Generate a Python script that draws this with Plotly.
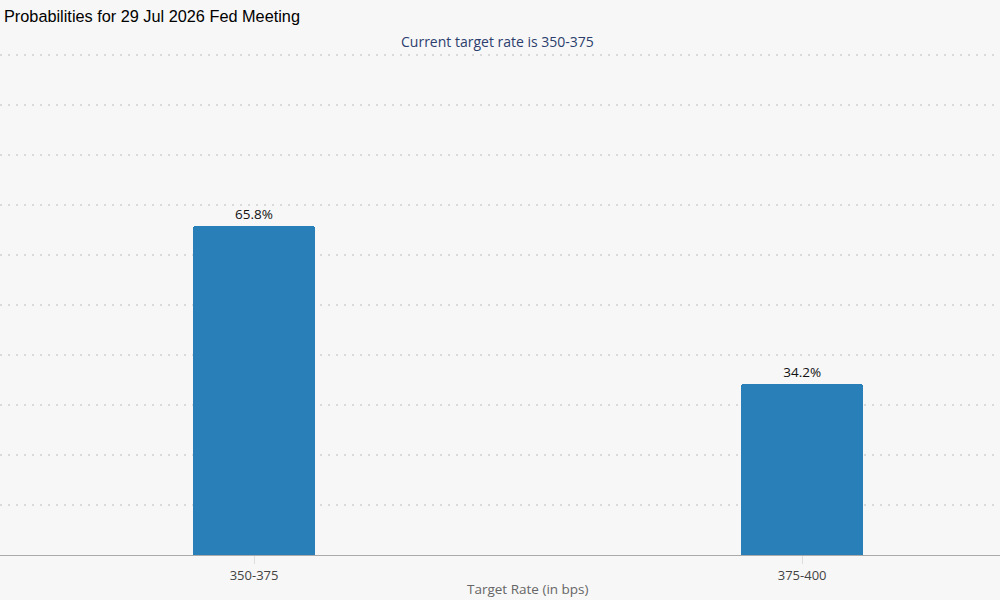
import plotly.graph_objects as go

categories = ["350-375", "375-400"]
probabilities = [65.8, 34.2]
y_ticks = [0, 10, 20, 30, 40, 50, 60, 70, 80, 90, 100]

fig = go.Figure(
    go.Bar(
        x=categories,
        y=probabilities,
        width=0.2226,
        marker=dict(color="#2980b9", cornerradius=3, line=dict(width=0)),
        text=[f"{v:.1f}%" for v in probabilities],
        textposition="outside",
        textfont=dict(family="Open Sans", size=13.5, color="#111111"),
        cliponaxis=False,
        hoverinfo="skip",
    )
)

fig.update_layout(
    width=1000,
    height=600,
    margin=dict(l=0, r=0, t=53, b=45),
    paper_bgcolor="#f7f7f7",
    plot_bgcolor="#f7f7f7",
    showlegend=False,
    bargap=0,
    xaxis=dict(
        type="category",
        range=[-0.4635, 1.361],
        showline=True,
        linecolor="#aaaaaa",
        linewidth=1,
        ticks="outside",
        ticklen=8,
        tickcolor="#dddddd",
        tickfont=dict(family="Open Sans", size=13, color="#444444"),
        showgrid=False,
        fixedrange=True,
    ),
    yaxis=dict(
        range=[0, 100.4],
        tickvals=y_ticks,
        showticklabels=False,
        showgrid=True,
        gridcolor="#dadada",
        gridwidth=1.5,
        griddash="2px,6px",
        zeroline=False,
        fixedrange=True,
    ),
    annotations=[
        dict(
            text="Probabilities for 29 Jul 2026 Fed Meeting",
            xref="paper", yref="paper",
            x=0.002, y=1.0,
            xanchor="left", yanchor="middle",
            yshift=37,
            showarrow=False,
            font=dict(family="Liberation Sans", size=16.3, color="#000000"),
        ),
        dict(
            text="Current target rate is 350-375",
            xref="paper", yref="paper",
            x=0.497, y=1.0,
            xanchor="center", yanchor="middle",
            yshift=12,
            showarrow=False,
            font=dict(family="Open Sans", size=14, color="#2c3e6e"),
        ),
        dict(
            text="Target Rate (in bps)",
            xref="paper", yref="paper",
            x=0.528, y=0.0,
            xanchor="center", yanchor="middle",
            yshift=-34,
            showarrow=False,
            font=dict(family="Open Sans", size=13.5, color="#666666"),
        ),
    ],
)

fig.write_html(
    "out.html",
    config={"displayModeBar": False, "staticPlot": True},
    post_script="document.body.style.margin='0';document.body.style.overflow='hidden';document.body.style.background='#f7f7f7';",
)
